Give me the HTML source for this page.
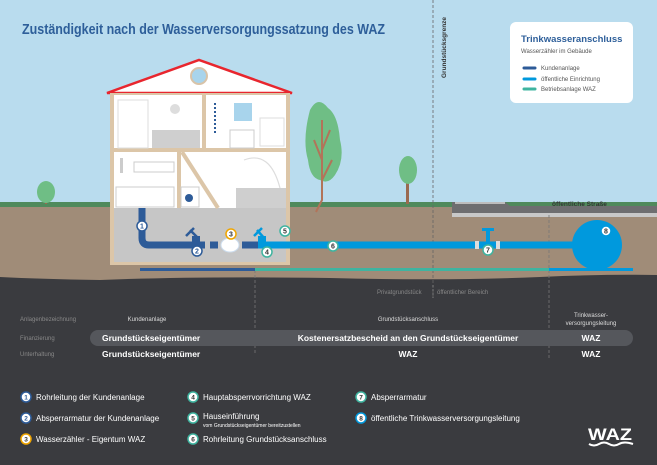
<!DOCTYPE html>
<html><head><meta charset="utf-8"><style>
body{margin:0;width:657px;height:465px;overflow:hidden;font-family:"Liberation Sans",sans-serif}
svg{display:block}
</style></head><body>
<svg width="657" height="465" viewBox="0 0 657 465" xmlns="http://www.w3.org/2000/svg" font-family="Liberation Sans, sans-serif">
<rect width="657" height="465" fill="#3a3b3f"/>
<rect width="657" height="207" fill="#b9dcee"/>
<rect y="202" width="657" height="6" fill="#4f8a5c"/>
<path d="M0 207 H657 V275 Q600 274 540 277 Q450 281 330 278 Q200 276 100 280 Q40 279 0 277Z" fill="#a08c78"/>
<!-- road -->
<path d="M452 202 H505 L510 206 H657 V217 H452Z" fill="#6e6e70"/>
<rect x="452" y="213" width="205" height="4" fill="#c8c8c8"/>
<rect x="455" y="202" width="50" height="2" fill="#bdbdbd"/>
<text x="552" y="206" font-size="6.5" font-weight="bold" fill="#333">öffentliche Straße</text>
<!-- dashed boundary -->
<line x1="433" y1="0" x2="433" y2="300" stroke="#666" stroke-width="0.8" stroke-dasharray="3,2"/>
<text transform="translate(446,78) rotate(-90)" font-size="6.5" font-weight="bold" fill="#333">Grundstücksgrenze</text>
<line x1="255" y1="270" x2="255" y2="355" stroke="#777" stroke-width="0.8" stroke-dasharray="3,2"/>
<line x1="549" y1="215" x2="549" y2="360" stroke="#777" stroke-width="0.8" stroke-dasharray="3,2"/>
<!-- title -->
<text x="22" y="34" font-size="15" font-weight="bold" fill="#2e5f9a" textLength="363" lengthAdjust="spacingAndGlyphs">Zuständigkeit nach der Wasserversorgungssatzung des WAZ</text>
<!-- legend -->
<rect x="510" y="22" width="123" height="81" rx="6" fill="#fff"/>
<text x="521" y="42" font-size="9.5" font-weight="bold" fill="#2e5f9a">Trinkwasseranschluss</text>
<text x="521" y="53" font-size="6" fill="#555">Wasserzähler im Gebäude</text>
<line x1="524" y1="68" x2="535" y2="68" stroke="#2d5b98" stroke-width="3" stroke-linecap="round"/>
<line x1="524" y1="79" x2="535" y2="79" stroke="#0099dd" stroke-width="3" stroke-linecap="round"/>
<line x1="524" y1="89" x2="535" y2="89" stroke="#3fb4a0" stroke-width="3" stroke-linecap="round"/>
<text x="541" y="70" font-size="6" fill="#555">Kundenanlage</text>
<text x="541" y="81" font-size="6" fill="#555">öffentliche Einrichtung</text>
<text x="541" y="91" font-size="6" fill="#555">Betriebsanlage WAZ</text>
<!-- trees -->
<rect x="45" y="190" width="2" height="14" fill="#9a6a50"/>
<ellipse cx="46" cy="192" rx="9" ry="11" fill="#6fbe85"/>
<rect x="406" y="180" width="3" height="24" fill="#9a6a50"/>
<ellipse cx="408" cy="170" rx="9" ry="14" fill="#6fbe85"/>
<path d="M310 110 Q318 95 328 108 Q338 115 340 140 Q345 160 335 175 Q328 185 320 180 Q310 178 308 160 Q302 140 310 110Z" fill="#6fbe85"/>
<path d="M322 120 L322 200 L316 212 M322 160 L314 140 M322 150 L330 130 M322 180 L332 160" stroke="#b27459" stroke-width="2" fill="none"/>
<!-- house -->
<polygon points="107,93 199,60 292,93" fill="#fff" stroke="#e8262e" stroke-width="2.5"/>
<circle cx="199" cy="76" r="8" fill="#a8d4ec" stroke="#d8c3a8" stroke-width="2"/>
<rect x="110" y="93" width="180" height="172" fill="#dcc6a8"/>
<rect x="114" y="95" width="88" height="53" fill="#fff"/>
<rect x="206" y="95" width="80" height="53" fill="#fff"/>
<rect x="114" y="152" width="63" height="56" fill="#fff"/>
<rect x="181" y="152" width="105" height="56" fill="#fff"/>
<rect x="114" y="208" width="172" height="54" fill="#c6c6c6"/>
<!-- furniture -->
<rect x="152" y="130" width="48" height="18" fill="#cfcfcf"/>
<rect x="118" y="100" width="30" height="48" fill="none" stroke="#ddd"/>
<circle cx="175" cy="109" r="5" fill="#ddd"/>
<rect x="234" y="103" width="18" height="18" fill="#a8d4ec"/>
<rect x="230" y="130" width="24" height="18" fill="none" stroke="#ccc"/>
<rect x="260" y="118" width="24" height="28" fill="none" stroke="#ddd"/>
<path d="M215 103 v30" stroke="#2d5b98" stroke-width="2" stroke-dasharray="2,2"/>
<rect x="236" y="188" width="50" height="20" fill="#cfcfcf"/>
<path d="M182 152 L218 208" stroke="#dcc6a8" stroke-width="4"/>
<rect x="116" y="187" width="58" height="20" fill="none" stroke="#ccc"/>
<rect x="181" y="187" width="18" height="20" fill="none" stroke="#ccc"/>
<circle cx="189" cy="198" r="4" fill="#2d5b98"/>
<rect x="120" y="158" width="3" height="15" fill="#ccc"/>
<rect x="134" y="162" width="40" height="10" fill="none" stroke="#ccc"/>
<path d="M244 160 Q270 150 280 188" stroke="#ddd" fill="none" stroke-width="1.2"/>
<!-- pipes -->
<path d="M142 208 V238 Q142 245 149 245 H258" stroke="#2d5b98" stroke-width="7" fill="none"/>
<rect x="205" y="241" width="5" height="8" fill="#c6c6c6"/>
<rect x="218" y="241" width="4" height="8" fill="#c6c6c6"/>
<rect x="238" y="241" width="4" height="8" fill="#c6c6c6"/>
<ellipse cx="230" cy="245" rx="9" ry="7" fill="#fff" stroke="#cde" />
<path d="M258 245 H600" stroke="#0099dd" stroke-width="7"/>
<path d="M190 230 L198 238 M186 236 L194 228" stroke="#2d5b98" stroke-width="2.5"/>
<rect x="192" y="236" width="8" height="10" fill="#2d5b98"/>
<path d="M257 230 L264 238 M254 236 L262 228" stroke="#0099dd" stroke-width="2.5"/>
<rect x="258" y="236" width="8" height="10" fill="#0099dd"/>
<rect x="486" y="229" width="4" height="14" fill="#0099dd"/><rect x="482" y="228" width="12" height="3" fill="#0099dd"/>
<rect x="475" y="241" width="4" height="8" fill="#ddd"/><rect x="496" y="241" width="4" height="8" fill="#ddd"/>
<circle cx="597" cy="245" r="25" fill="#0099dd"/>
<!-- bottom lines -->
<line x1="140" y1="269.5" x2="255" y2="269.5" stroke="#2d5b98" stroke-width="3"/>
<line x1="255" y1="269.5" x2="549" y2="269.5" stroke="#3fb4a0" stroke-width="3"/>
<line x1="549" y1="269.5" x2="633" y2="269.5" stroke="#0099dd" stroke-width="3"/>
<!-- markers -->
<g font-size="7" font-weight="bold" text-anchor="middle">
<circle cx="142" cy="226" r="5" fill="#fff" stroke="#2d5b98" stroke-width="1.5"/><text x="142" y="228.5" fill="#2d5b98">1</text>
<circle cx="197" cy="251" r="5" fill="#fff" stroke="#2d5b98" stroke-width="1.5"/><text x="197" y="253.5" fill="#2d5b98">2</text>
<circle cx="231" cy="234" r="5" fill="#fff" stroke="#f0a500" stroke-width="1.5"/><text x="231" y="236.5" fill="#333">3</text>
<circle cx="267" cy="252" r="5" fill="#fff" stroke="#3fb4a0" stroke-width="1.5"/><text x="267" y="254.5" fill="#333">4</text>
<circle cx="285" cy="231" r="5" fill="#fff" stroke="#3fb4a0" stroke-width="1.5"/><text x="285" y="233.5" fill="#333">5</text>
<circle cx="333" cy="246" r="5" fill="#fff" stroke="#3fb4a0" stroke-width="1.5"/><text x="333" y="248.5" fill="#333">6</text>
<circle cx="488" cy="250" r="5" fill="#fff" stroke="#3fb4a0" stroke-width="1.5"/><text x="488" y="252.5" fill="#333">7</text>
<circle cx="606" cy="231" r="5" fill="#fff" stroke="#0099dd" stroke-width="1.5"/><text x="606" y="233.5" fill="#333">8</text>
</g>
<!-- panel -->
<g font-size="6" fill="#888">
<text x="377" y="294">Privatgrundstück</text><text x="437" y="294">öffentlicher Bereich</text>
<text x="20" y="321">Anlagenbezeichnung</text><text x="20" y="340">Finanzierung</text><text x="20" y="356">Unterhaltung</text>
</g>
<line x1="433" y1="285" x2="433" y2="298" stroke="#888" stroke-width="0.8" stroke-dasharray="2,2"/>
<g font-size="6" fill="#ddd" text-anchor="middle">
<text x="147" y="321">Kundenanlage</text><text x="408" y="321">Grundstücksanschluss</text>
<text x="591" y="317">Trinkwasser-</text><text x="591" y="325">versorgungsleitung</text>
</g>
<rect x="90" y="330" width="543" height="16" rx="8" fill="#55575c"/>
<g font-size="8.5" font-weight="bold" fill="#fff">
<text x="102" y="341">Grundstückseigentümer</text>
<text x="408" y="341" text-anchor="middle">Kostenersatzbescheid an den Grundstückseigentümer</text>
<text x="591" y="341" text-anchor="middle">WAZ</text>
<text x="102" y="357">Grundstückseigentümer</text>
<text x="408" y="357" text-anchor="middle">WAZ</text>
<text x="591" y="357" text-anchor="middle">WAZ</text>
</g>
<g font-size="8" fill="#fff">
<g font-size="6.5" font-weight="bold" text-anchor="middle">
<circle cx="26" cy="397" r="5" fill="#fff" stroke="#2d5b98" stroke-width="1.5"/><text x="26" y="399.5" fill="#2d5b98">1</text>
<circle cx="26" cy="418" r="5" fill="#fff" stroke="#2d5b98" stroke-width="1.5"/><text x="26" y="420.5" fill="#2d5b98">2</text>
<circle cx="26" cy="439" r="5" fill="#fff" stroke="#f0a500" stroke-width="1.5"/><text x="26" y="441.5" fill="#333">3</text>
<circle cx="193" cy="397" r="5" fill="#fff" stroke="#3fb4a0" stroke-width="1.5"/><text x="193" y="399.5" fill="#333">4</text>
<circle cx="193" cy="418" r="5" fill="#fff" stroke="#3fb4a0" stroke-width="1.5"/><text x="193" y="420.5" fill="#333">5</text>
<circle cx="193" cy="439" r="5" fill="#fff" stroke="#3fb4a0" stroke-width="1.5"/><text x="193" y="441.5" fill="#333">6</text>
<circle cx="361" cy="397" r="5" fill="#fff" stroke="#3fb4a0" stroke-width="1.5"/><text x="361" y="399.5" fill="#333">7</text>
<circle cx="361" cy="418" r="5" fill="#fff" stroke="#0099dd" stroke-width="1.5"/><text x="361" y="420.5" fill="#333">8</text>
</g>
<text x="36" y="400">Rohrleitung der Kundenanlage</text>
<text x="36" y="421">Absperrarmatur der Kundenanlage</text>
<text x="36" y="442">Wasserzähler - Eigentum WAZ</text>
<text x="203" y="400">Hauptabsperrvorrichtung WAZ</text>
<text x="203" y="419">Hauseinführung</text>
<text x="203" y="427" font-size="5">vom Grundstückseigentümer bereitzustellen</text>
<text x="203" y="442">Rohrleitung Grundstücksanschluss</text>
<text x="371" y="400">Absperrarmatur</text>
<text x="371" y="421">öffentliche Trinkwasserversorgungsleitung</text>
</g>
<text x="610" y="440" font-size="17" font-weight="bold" fill="#fff" text-anchor="middle" textLength="44" lengthAdjust="spacingAndGlyphs">WAZ</text>
<path d="M589 444 q5 3 10 0 q5 -3 10 0 q5 3 10 0 q5 -3 14 0" stroke="#fff" stroke-width="2" fill="none"/>
</svg>
</body></html>
